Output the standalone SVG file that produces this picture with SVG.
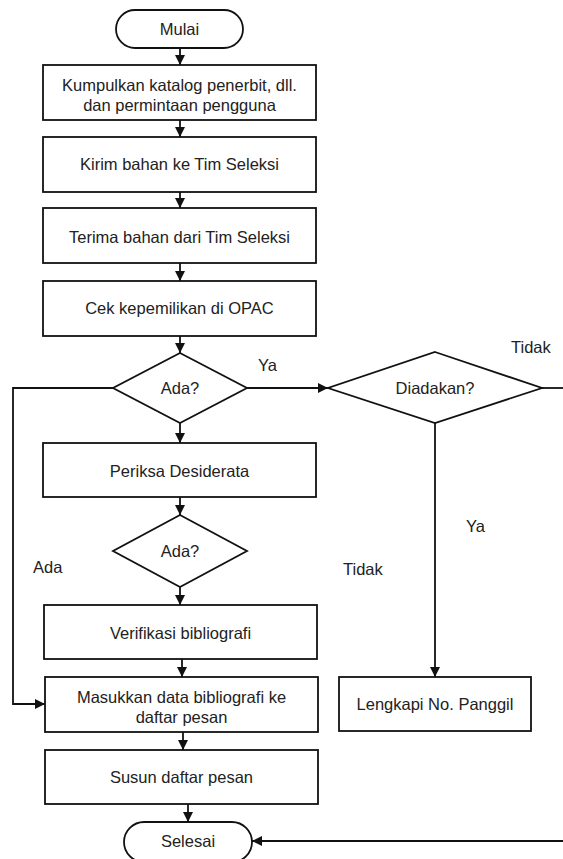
<svg xmlns="http://www.w3.org/2000/svg" width="563" height="859" viewBox="0 0 563 859">
<style>
.s{fill:#fff;stroke:#111;stroke-width:1.8}
.t{font-family:"Liberation Sans",Arial,sans-serif;font-size:16.5px;fill:#222;text-anchor:middle}
.l{font-family:"Liberation Sans",Arial,sans-serif;font-size:16.5px;fill:#222}
.c{fill:none;stroke:#111;stroke-width:1.8}
</style>
<defs>
<marker id="b" viewBox="0 0 10 10" refX="10" refY="5" markerWidth="10" markerHeight="10" markerUnits="userSpaceOnUse" orient="auto">
<path d="M0,0 L10,5 L0,10 z" fill="#111"/>
</marker>
</defs>
<rect width="563" height="859" fill="#fff"/>
<g id="connectors">
<line class="c" x1="180" y1="48" x2="180" y2="65" marker-end="url(#b)"/>
<line class="c" x1="180" y1="120" x2="180" y2="137" marker-end="url(#b)"/>
<line class="c" x1="180" y1="192" x2="180" y2="208" marker-end="url(#b)"/>
<line class="c" x1="180" y1="263" x2="180" y2="281" marker-end="url(#b)"/>
<line class="c" x1="180" y1="336" x2="180" y2="353" marker-end="url(#b)"/>
<line class="c" x1="180" y1="423" x2="180" y2="443" marker-end="url(#b)"/>
<line class="c" x1="180" y1="497" x2="180" y2="515" marker-end="url(#b)"/>
<line class="c" x1="180" y1="587" x2="180" y2="605" marker-end="url(#b)"/>
<line class="c" x1="182" y1="659" x2="182" y2="677" marker-end="url(#b)"/>
<line class="c" x1="183" y1="732" x2="183" y2="750" marker-end="url(#b)"/>
<line class="c" x1="188" y1="804" x2="188" y2="822" marker-end="url(#b)"/>
<line class="c" x1="247" y1="388" x2="328" y2="388" marker-end="url(#b)"/>
<line class="c" x1="542" y1="388" x2="563" y2="388"/>
<line class="c" x1="435" y1="423" x2="435" y2="677" marker-end="url(#b)"/>
<polyline class="c" points="113,388 13,388 13,704 45,704" marker-end="url(#b)"/>
<line class="c" x1="563" y1="841" x2="252" y2="841" marker-end="url(#b)"/>
<text class="l" x="258" y="371">Ya</text>
<text class="l" x="511" y="353">Tidak</text>
<text class="l" x="33" y="573">Ada</text>
<text class="l" x="343" y="575">Tidak</text>
<text class="l" x="466" y="532">Ya</text>
</g>
<g id="mulai"><rect class="s" x="116" y="10" width="127" height="38" rx="19"/><text class="t" x="179.5" y="35">Mulai</text></g>
<g id="kumpulkan"><rect class="s" x="43" y="65" width="273" height="55"/><text class="t" x="179.5" y="91">Kumpulkan katalog penerbit, dll.</text><text class="t" x="179.5" y="111">dan permintaan pengguna</text></g>
<g id="kirim"><rect class="s" x="43" y="137" width="273" height="55"/><text class="t" x="179.5" y="170">Kirim bahan ke Tim Seleksi</text></g>
<g id="terima"><rect class="s" x="43" y="208" width="273" height="55"/><text class="t" x="179.5" y="243">Terima bahan dari Tim Seleksi</text></g>
<g id="cek"><rect class="s" x="43" y="281" width="273" height="55"/><text class="t" x="179.5" y="314">Cek kepemilikan di OPAC</text></g>
<g id="ada1"><polygon class="s" points="180,353 247,388 180,423 113,388"/><text class="t" x="180" y="394">Ada?</text></g>
<g id="diadakan"><polygon class="s" points="435,352 542,388 435,423 328,388"/><text class="t" x="435" y="394">Diadakan?</text></g>
<g id="periksa"><rect class="s" x="43" y="443" width="273" height="54"/><text class="t" x="179.5" y="477">Periksa Desiderata</text></g>
<g id="ada2"><polygon class="s" points="180,515 247,551 180,587 113,551"/><text class="t" x="180" y="557">Ada?</text></g>
<g id="verifikasi"><rect class="s" x="44" y="605" width="273" height="54"/><text class="t" x="180.5" y="639">Verifikasi bibliografi</text></g>
<g id="masukkan"><rect class="s" x="45" y="677" width="273" height="55"/><text class="t" x="181.5" y="703">Masukkan data bibliografi ke</text><text class="t" x="181.5" y="723">daftar pesan</text></g>
<g id="lengkapi"><rect class="s" x="339" y="677" width="192" height="54"/><text class="t" x="435" y="710">Lengkapi No. Panggil</text></g>
<g id="susun"><rect class="s" x="45" y="750" width="273" height="54"/><text class="t" x="181.5" y="783">Susun daftar pesan</text></g>
<g id="selesai"><rect class="s" x="124" y="822" width="128" height="40" rx="20"/><text class="t" x="188" y="847">Selesai</text></g>
</svg>
